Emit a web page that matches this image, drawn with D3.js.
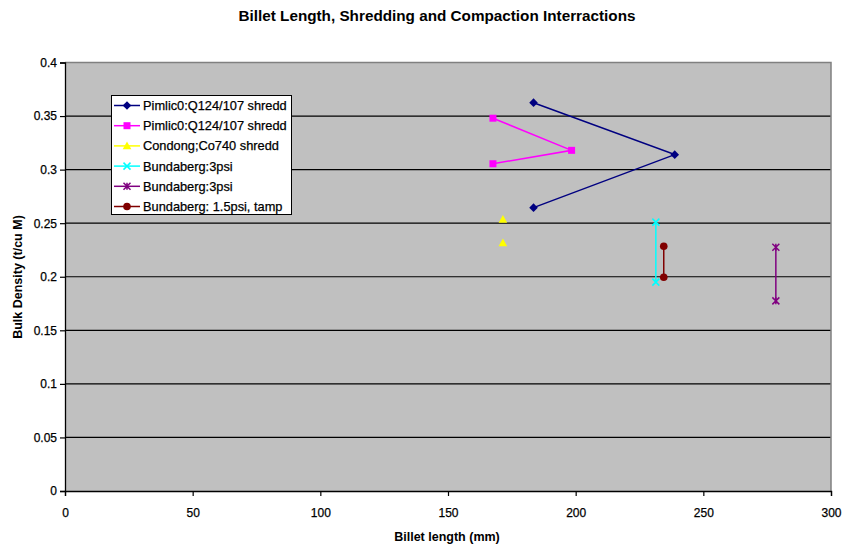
<!DOCTYPE html>
<html>
<head>
<meta charset="utf-8">
<script src="https://cdn.jsdelivr.net/npm/d3@7"></script>
<style>
  html, body { margin: 0; padding: 0; background: #fff; }
  svg text { font-family: "Liberation Sans", Arial, sans-serif; fill: #000; }
</style>
</head>
<body>
<svg id="chart" width="843" height="545"></svg>
<script>
// Series names, in legend order
const seriesNames = [
  "Pimlic0:Q124/107 shredd",
  "Pimlic0:Q124/107 shredd",
  "Condong;Co740 shredd",
  "Bundaberg:3psi",
  "Bundaberg:3psi",
  "Bundaberg: 1.5psi, tamp"
];
// Billet length (mm) per series
const billetLengths = [
  [183.5, 238.8, 183.5],
  [167.6, 198.4, 167.6],
  [171.5, 171.5],
  [231.4, 231.4],
  [278.4, 278.4],
  [234.5, 234.5]
];
// Bulk density (t/cu M) per series
const bulkDensities = [
  [0.3625, 0.314, 0.2645],
  [0.348, 0.318, 0.3055],
  [0.2535, 0.2315],
  [0.251, 0.195],
  [0.2275, 0.1775],
  [0.2285, 0.1995]
];
const seriesColors = ["#000080", "#FF00FF", "#FFFF00", "#00FFFF", "#800080", "#800000"];
const seriesMarkers = ["diamond", "square", "triangle", "cross", "asterisk", "circle"];
const seriesJoined = [true, true, false, true, true, true];

const xTicks = [0, 50, 100, 150, 200, 250, 300];
const yTicks = [0, 0.05, 0.1, 0.15, 0.2, 0.25, 0.3, 0.35, 0.4];

const svg = d3.select("#chart");
const plot = { left: 65, right: 831, top: 62.5, bottom: 491 };

const x = d3.scaleLinear().domain([0, 300]).range([plot.left, plot.right]);
const y = d3.scaleLinear().domain([0, 0.4]).range([plot.bottom, plot.top]);

// Plot background
svg.append("rect")
  .attr("x", plot.left).attr("y", plot.top)
  .attr("width", plot.right - plot.left).attr("height", plot.bottom - plot.top)
  .attr("fill", "#C0C0C0");

// Horizontal gridlines
svg.append("g").selectAll("line")
  .data(yTicks.filter(d => d > 0 && d < 0.4))
  .join("line")
  .attr("x1", plot.left).attr("x2", plot.right)
  .attr("y1", d => y(d)).attr("y2", d => y(d))
  .attr("stroke", "#000").attr("stroke-width", 1.2);

// Grey frame on top and right
svg.append("path")
  .attr("d", `M${plot.left},${plot.top}H${plot.right}V${plot.bottom}`)
  .attr("fill", "none").attr("stroke", "#808080").attr("stroke-width", 1.5);

// Axes
const xAxis = d3.axisBottom(x).tickValues(xTicks).tickSize(5).tickPadding(12)
  .tickFormat(d3.format("d"));
const yAxis = d3.axisLeft(y).tickValues(yTicks).tickSize(5).tickPadding(3)
  .tickFormat(d => d === 0 ? "0" : String(+d.toFixed(2)));

const gx = svg.append("g").attr("transform", `translate(0,${plot.bottom})`).call(xAxis);
const gy = svg.append("g").attr("transform", `translate(${plot.left},0)`).call(yAxis);
[gx, gy].forEach(g => {
  g.select(".domain").attr("stroke", "#000").attr("stroke-width", 1.3);
  g.selectAll(".tick line").attr("stroke", "#000").attr("stroke-width", 1.2);
  g.selectAll(".tick text")
    .style("font-family", "'Liberation Sans', Arial, sans-serif")
    .style("font-size", "12px").attr("fill", "#000")
    .attr("stroke", "#000").attr("stroke-width", 0.25);
});

// Marker symbols
function marker(sel, type, color) {
  const s = 7;
  if (type === "diamond") {
    sel.append("path").attr("d", "M0,-4.3L4.3,0L0,4.3L-4.3,0Z").attr("fill", color);
  } else if (type === "square") {
    sel.append("rect").attr("x", -s / 2).attr("y", -s / 2).attr("width", s).attr("height", s)
      .attr("fill", color);
  } else if (type === "triangle") {
    sel.append("path").attr("d", "M0,-4.5L4.3,3.3L-4.3,3.3Z").attr("fill", color);
  } else if (type === "cross") {
    sel.append("path").attr("d", "M-3.5,-3.5L3.5,3.5M-3.5,3.5L3.5,-3.5")
      .attr("stroke", color).attr("stroke-width", 1.5).attr("fill", "none");
  } else if (type === "asterisk") {
    sel.append("path").attr("d", "M-3.5,-3.5L3.5,3.5M-3.5,3.5L3.5,-3.5M0,-3.5L0,3.5")
      .attr("stroke", color).attr("stroke-width", 1.5).attr("fill", "none");
  } else if (type === "circle") {
    sel.append("circle").attr("r", 3.8).attr("fill", color);
  }
}

// Series lines and markers
const line = d3.line().x(d => x(d[0])).y(d => y(d[1]));
seriesNames.forEach((name, i) => {
  const pts = billetLengths[i].map((v, j) => [v, bulkDensities[i][j]]);
  const g = svg.append("g");
  if (seriesJoined[i]) {
    g.append("path").attr("d", line(pts))
      .attr("fill", "none").attr("stroke", seriesColors[i]).attr("stroke-width", 1.5);
  }
  pts.forEach(p => {
    const m = g.append("g").attr("transform", `translate(${x(p[0])},${y(p[1])})`);
    marker(m, seriesMarkers[i], seriesColors[i]);
  });
});

// Legend
const legend = svg.append("g");
legend.append("rect")
  .attr("x", 111.5).attr("y", 95.5).attr("width", 180).attr("height", 119)
  .attr("fill", "#fff").attr("stroke", "#000").attr("stroke-width", 1);
seriesNames.forEach((name, i) => {
  const ly = 105.5 + i * 20.2;
  legend.append("line").attr("x1", 114).attr("x2", 140).attr("y1", ly).attr("y2", ly)
    .attr("stroke", seriesColors[i]).attr("stroke-width", 1.5);
  const m = legend.append("g").attr("transform", `translate(127,${ly})`);
  marker(m, seriesMarkers[i], seriesColors[i]);
  legend.append("text").attr("x", 143).attr("y", ly + 4.5)
    .style("font-size", "12.8px")
    .attr("stroke", "#000").attr("stroke-width", 0.25)
    .text(name);
});

// Title and axis titles
svg.append("text").attr("x", 437).attr("y", 21).attr("text-anchor", "middle")
  .style("font-size", "15px").style("font-weight", "bold")
  .attr("textLength", 397).attr("lengthAdjust", "spacingAndGlyphs")
  .text("Billet Length, Shredding and Compaction Interractions");
svg.append("text").attr("x", 447).attr("y", 541).attr("text-anchor", "middle")
  .style("font-size", "12.5px").style("font-weight", "bold")
  .text("Billet length (mm)");
svg.append("text").attr("transform", "translate(22,277) rotate(-90)")
  .attr("text-anchor", "middle")
  .style("font-size", "12.5px").style("font-weight", "bold")
  .text("Bulk Density (t/cu M)");
</script>
</body>
</html>
